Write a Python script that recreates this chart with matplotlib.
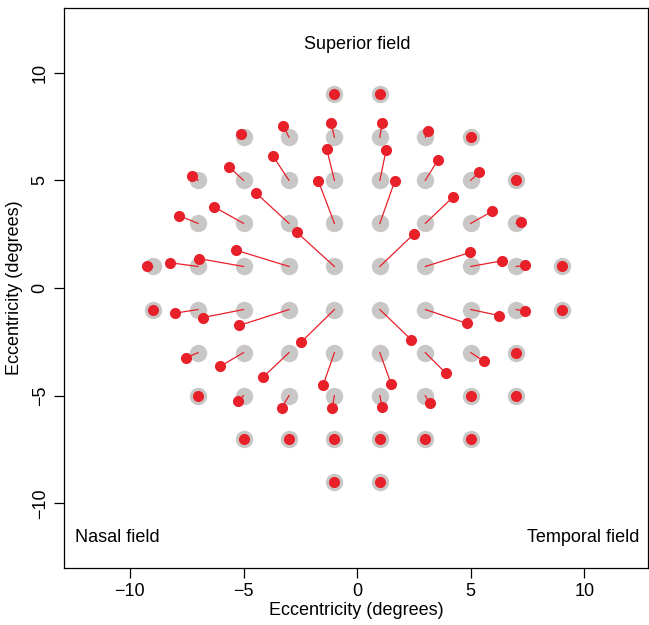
import numpy as np
import matplotlib
matplotlib.use("Agg")
import matplotlib.pyplot as plt

plt.rcParams['font.family'] = ['Liberation Sans', 'DejaVu Sans']

# test locations (degrees), left-to-right, top-to-bottom
grid_x = [-1, 1,
          -5, -3, -1, 1, 3, 5,
          -7, -5, -3, -1, 1, 3, 5, 7,
          -7, -5, -3, -1, 1, 3, 5, 7,
          -9, -7, -5, -3, -1, 1, 3, 5, 7, 9,
          -9, -7, -5, -3, -1, 1, 3, 5, 7, 9,
          -7, -5, -3, -1, 1, 3, 5, 7,
          -7, -5, -3, -1, 1, 3, 5, 7,
          -5, -3, -1, 1, 3, 5,
          -1, 1]
grid_y = [9, 9,
          7, 7, 7, 7, 7, 7,
          5, 5, 5, 5, 5, 5, 5, 5,
          3, 3, 3, 3, 3, 3, 3, 3,
          1, 1, 1, 1, 1, 1, 1, 1, 1, 1,
          -1, -1, -1, -1, -1, -1, -1, -1, -1, -1,
          -3, -3, -3, -3, -3, -3, -3, -3,
          -5, -5, -5, -5, -5, -5, -5, -5,
          -7, -7, -7, -7, -7, -7,
          -9, -9]

# displaced locations
moved_x = [-1.0, 1.0,
           -5.12, -3.25, -1.15, 1.10, 3.12, 5.0,
           -7.26, -5.66, -3.72, -1.34, 1.28, 3.56, 5.37, 7.0,
           -7.84, -6.32, -4.44, -1.71, 1.65, 4.21, 5.94, 7.19,
           -9.26, -8.22, -6.94, -5.34, -2.65, 2.51, 4.97, 6.37, 7.40, 9.0,
           -9.0, -8.03, -6.78, -5.19, -2.47, 2.38, 4.82, 6.26, 7.37, 9.0,
           -7.51, -6.03, -4.13, -1.49, 1.49, 3.90, 5.57, 7.0,
           -7.0, -5.25, -3.32, -1.10, 1.10, 3.19, 5.0, 7.0,
           -5.0, -3.0, -1.0, 1.0, 3.0, 5.0,
           -1.0, 1.0]
moved_y = [9.0, 9.0,
           7.16, 7.53, 7.68, 7.68, 7.31, 7.0,
           5.19, 5.64, 6.15, 6.46, 6.43, 5.95, 5.37, 5.0,
           3.36, 3.78, 4.40, 4.98, 4.95, 4.21, 3.56, 3.08,
           1.02, 1.17, 1.36, 1.76, 2.58, 2.52, 1.65, 1.26, 1.05, 1.0,
           -1.0, -1.17, -1.37, -1.74, -2.52, -2.40, -1.64, -1.28, -1.08, -1.0,
           -3.23, -3.64, -4.13, -4.49, -4.44, -3.95, -3.39, -3.0,
           -5.0, -5.26, -5.56, -5.56, -5.53, -5.36, -5.0, -5.0,
           -7.0, -7.0, -7.0, -7.0, -7.0, -7.0,
           -9.0, -9.0]

fig = plt.figure(figsize=(6.49, 6.25), dpi=100)
ax = fig.add_axes([64/649, 1-568/625, 584/649, 560/625])

ax.plot(grid_x, grid_y, 'o', color='#c9c7c6', markersize=12.5, markeredgewidth=0, zorder=1)
for gx, gy, mx, my in zip(grid_x, grid_y, moved_x, moved_y):
    ax.plot([gx, mx], [gy, my], color='#e8202a', linewidth=0.9, zorder=2)
ax.plot(moved_x, moved_y, 'o', color='#e8202a', markersize=8, markeredgewidth=0, zorder=3)

ax.set_xlim(-12.9, 12.8)
ax.set_ylim(-13.0, 13.0)
ax.set_xticks([-10, -5, 0, 5, 10])
ax.set_yticks([-10, -5, 0, 5, 10])
ax.set_xticklabels(['\u221210', '\u22125', '0', '5', '10'])
ax.set_yticklabels(['\u221210', '\u22125', '0', '5', '10'], rotation=90, va='center')
ax.tick_params(labelsize=13, length=7, width=0.9, direction='out', pad=4)
for s in ax.spines.values():
    s.set_linewidth(0.9)

ax.set_xlabel('Eccentricity (degrees)', fontsize=13, labelpad=1)
ax.set_ylabel('Eccentricity (degrees)', fontsize=13, labelpad=6)

ax.text(0, 11.3, 'Superior field', ha='center', va='center', fontsize=13)
ax.text(-12.4, -11.6, 'Nasal field', ha='left', va='center', fontsize=13)
ax.text(12.4, -11.6, 'Temporal field', ha='right', va='center', fontsize=13)

fig.savefig('out.png', dpi=100)
